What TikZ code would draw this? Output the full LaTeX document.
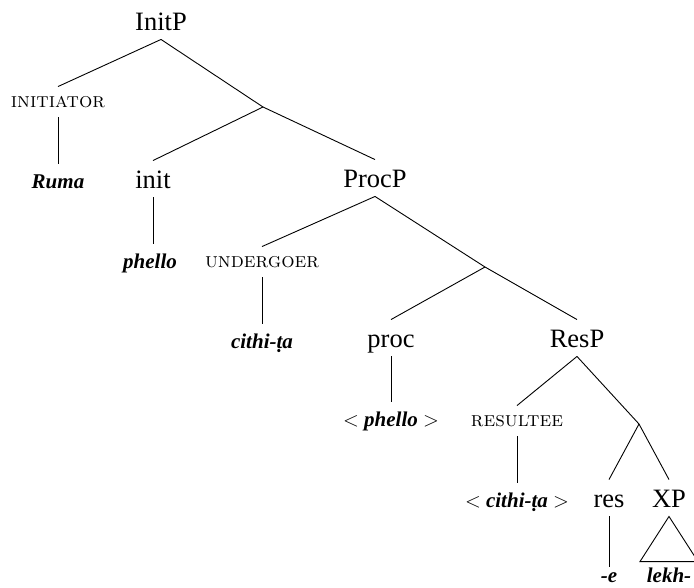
\documentclass[tikz,border=0pt]{standalone}
\usepackage{fontspec}
\newfontfamily\tnr{Liberation Serif}
\begin{document}
\begin{tikzpicture}[x=1pt,y=-1pt,line width=0.9pt,
  lab/.style={anchor=base,inner sep=0pt,font={\tnr\fontsize{26.5}{30}\selectfont},text height=27pt,text depth=9pt},
  scl/.style={anchor=base,inner sep=0pt,font={\fontsize{21}{24}\selectfont\scshape},text height=20pt,text depth=10pt},
  leaf/.style={anchor=base,inner sep=0pt,font={\tnr\fontsize{21}{25}\selectfont\bfseries\itshape},text height=24pt,text depth=4pt}]
\useasboundingbox (0,0) rectangle (694,587);
% nodes
\node[lab] (initp) at (161,30) {InitP};
\node[scl] (initiator) at (58,107) {initiator};
\node[leaf] (ruma) at (58,188) {Ruma};
\coordinate (b1) at (263,107);
\node[lab] (init) at (153,188) {init};
\node[leaf] (phello) at (150,268) {phello};
\node[lab] (procp) at (375,187) {ProcP};
\node[scl] (undergoer) at (262,267) {undergoer};
\node[leaf] (cithi) at (262,348) {cithi-ṭa};
\coordinate (b2) at (485,267);
\node[lab] (proc) at (391,347) {proc};
\node[leaf] (phellob) at (391,426) {$<$ phello $>$};
\node[lab] (resp) at (577,347) {ResP};
\node[scl] (resultee) at (517,426) {resultee};
\node[leaf] (cithib) at (517,507) {$<$ cithi-ṭa $>$};
\coordinate (b3) at (639,424);
\node[lab] (res) at (609,507) {res};
\node[lab] (xp) at (669,507) {XP};
\node[leaf,text height=15pt] (e) at (609,582) {-e};
\node[leaf,text height=20pt] (lekh) at (669,582) {lekh-};
% connectors
\draw (initp.south) -- (initiator.north);
\draw (initp.south) -- (b1);
\draw (initiator.south) -- (initiator.south |- ruma.north);
\draw (b1) -- (init.north);
\draw (b1) -- (procp.north);
\draw (init.south) -- (init.south |- phello.north);
\draw (procp.south) -- (undergoer.north);
\draw (procp.south) -- (b2);
\draw (undergoer.south) -- (undergoer.south |- cithi.north);
\draw (b2) -- (proc.north);
\draw (b2) -- (resp.north);
\draw (proc.south) -- (proc.south |- phellob.north);
\draw (resp.south) -- (resultee.north);
\draw (resp.south) -- (b3);
\draw (resultee.south) -- (resultee.south |- cithib.north);
\draw (b3) -- (res.north);
\draw (b3) -- (xp.north);
\draw (res.south) -- (res.south |- e.north);
\draw (xp.south) -- ([xshift=-29pt]lekh.north) -- ([xshift=29pt]lekh.north) -- cycle;
\end{tikzpicture}
\end{document}
